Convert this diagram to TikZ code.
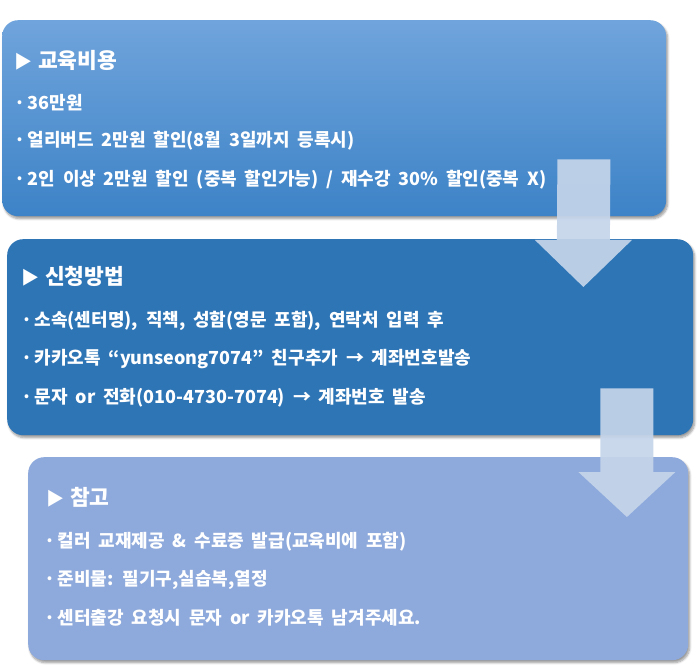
\documentclass[tikz,border=0pt]{standalone}
\usepackage{fontspec}
\setmainfont{Noto Sans CJK KR}[WordSpace=1.9]
\usepackage{tikz}
\usetikzlibrary{calc, shadows.blur}

\definecolor{CostTop}{HTML}{70A4DC}
\definecolor{CostBottom}{HTML}{3D83C7}
\definecolor{ApplyBlue}{HTML}{2E75B6}
\definecolor{NoteBlue}{HTML}{8EA9DB}
\definecolor{ArrowBlue}{HTML}{C5D5EA}

\newcommand{\tri}{{\fontsize{18}{20}\selectfont ▶}\hspace{6pt}}
\newcommand{\dotmark}{·\hspace{2.5pt}}

\tikzset{
  stagebox/.style={rounded corners=16pt, minimum width=#1, anchor=north west, inner sep=0pt,
    blur shadow={shadow xshift=1.5pt, shadow yshift=-2.5pt, shadow opacity=40, shadow blur steps=6}},
  boxtitle/.style={anchor=west, inner sep=0pt, text=white, font=\fontsize{21.5}{24}\selectfont\bfseries},
  boxline/.style={anchor=west, inner sep=0pt, text=white, font=\fontsize{18}{20}\selectfont\bfseries},
  flowarrow/.style={fill=ArrowBlue, opacity=0.92}
}

\begin{document}
\begin{tikzpicture}[x=1pt, y=-1pt]
  \useasboundingbox (0,0) rectangle (699,668);

  % Stage boxes
  \node[stagebox=664pt, minimum height=196pt, top color=CostTop, bottom color=CostBottom] (cost) at (2,20) {};
  \node[stagebox=686pt, minimum height=196pt, fill=ApplyBlue] (apply) at (7,239) {};
  \node[stagebox=660pt, minimum height=203pt, fill=NoteBlue] (note) at (28,457) {};

  % Education fee
  \node[boxtitle] (costtitle) at ($(cost.north west)+(12,40)$) {\tri 교육비용};
  \node[boxline] (cost1) at ($(cost.north west)+(12,83)$) {\dotmark 36만원};
  \node[boxline] (cost2) at ($(cost.north west)+(12,121)$) {\dotmark 얼리버드 2만원 할인(8월 3일까지 등록시)};
  \node[boxline] (cost3) at ($(cost.north west)+(12,160)$) {\dotmark 2인 이상 2만원 할인 (중복 할인가능) / 재수강 30\% 할인(중복 X)};

  % How to apply
  \node[boxtitle] (applytitle) at ($(apply.north west)+(14,37)$) {\tri 신청방법};
  \node[boxline] (apply1) at ($(apply.north west)+(14,82)$) {\dotmark 소속(센터명), 직책, 성함(영문 포함), 연락처 입력 후};
  \node[boxline] (apply2) at ($(apply.north west)+(14,120)$) {\dotmark 카카오톡 “yunseong7074” 친구추가 → 계좌번호발송};
  \node[boxline] (apply3) at ($(apply.north west)+(14,159)$) {\dotmark 문자 or 전화(010-4730-7074) → 계좌번호 발송};

  % Notes
  \node[boxtitle] (notetitle) at ($(note.north west)+(18,40)$) {\tri 참고};
  \node[boxline] (note1) at ($(note.north west)+(16,85)$) {\dotmark 컬러 교재제공 \& 수료증 발급(교육비에 포함)};
  \node[boxline] (note2) at ($(note.north west)+(16,123)$) {\dotmark 준비물: 필기구,실습복,열정};
  \node[boxline] (note3) at ($(note.north west)+(16,161)$) {\dotmark 센터출강 요청시 문자 or 카카오톡 남겨주세요.};

  % Block arrows between the boxes
  \coordinate (costout) at ($(cost.south east)+(-82.5,-57)$);
  \coordinate (applyin) at ($(apply.north east)+(-110,48)$);
  \fill[flowarrow] ($(costout)+(-26.5,0)$) -- ($(costout)+(26.5,0)$) -- ($(applyin)+(26.5,-47)$)
    -- ($(applyin)+(48.5,-47)$) -- (applyin) -- ($(applyin)+(-48.5,-47)$) -- ($(applyin)+(-26.5,-47)$) -- cycle;

  \coordinate (applyout) at ($(apply.south east)+(-66.5,-47)$);
  \coordinate (notein) at ($(note.north east)+(-61.5,60)$);
  \fill[flowarrow] ($(applyout)+(-26.5,0)$) -- ($(applyout)+(26.5,0)$) -- ($(notein)+(26.5,-45)$)
    -- ($(notein)+(48.5,-45)$) -- (notein) -- ($(notein)+(-48.5,-45)$) -- ($(notein)+(-26.5,-45)$) -- cycle;
\end{tikzpicture}
\end{document}
